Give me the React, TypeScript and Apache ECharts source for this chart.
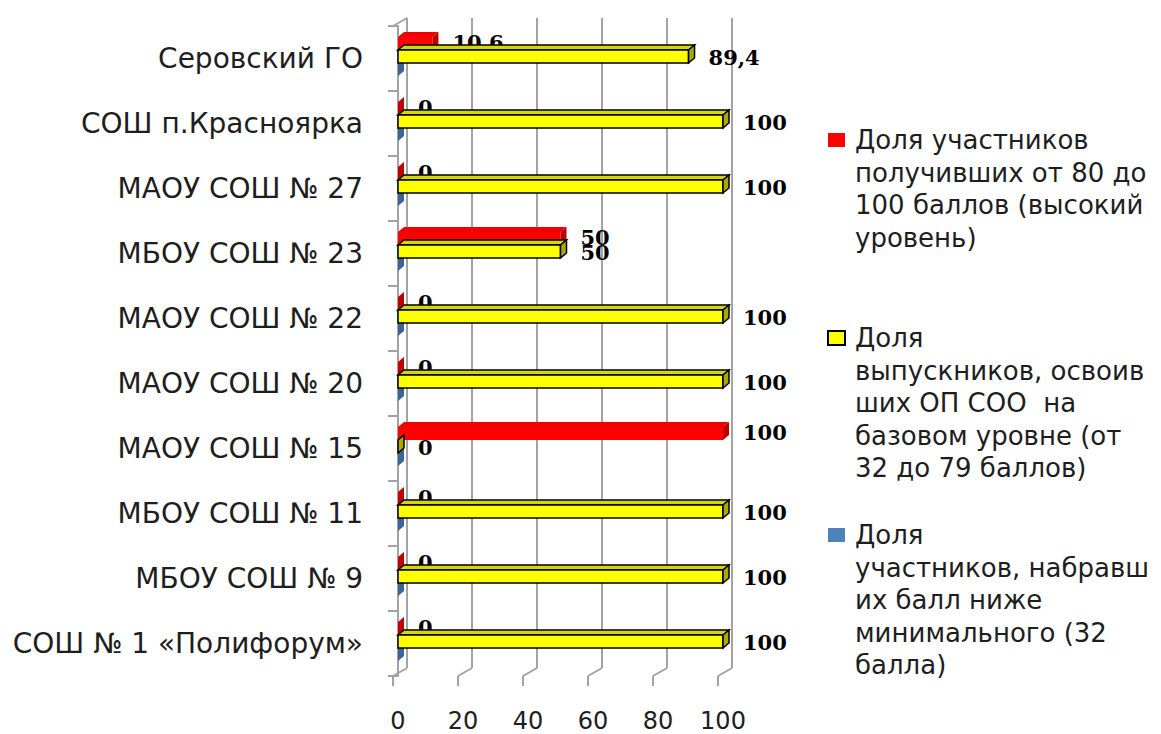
import React, { useEffect, useRef } from "react";
import * as echarts from "echarts";

// Categories listed bottom → top (ECharts category y-axis starts at bottom)
const categories = [
  "СОШ № 1 «Полифорум»",
  "МБОУ СОШ № 9",
  "МБОУ СОШ № 11",
  "МАОУ СОШ № 15",
  "МАОУ СОШ № 20",
  "МАОУ СОШ № 22",
  "МБОУ СОШ № 23",
  "МАОУ СОШ № 27",
  "СОШ п.Красноярка",
  "Серовский ГО",
];
const highLevel = [0, 0, 0, 100, 0, 0, 50, 0, 0, 10.6];
const baseLevel = [100, 100, 100, 0, 100, 100, 50, 100, 100, 89.4];
const belowMin = [0, 0, 0, 0, 0, 0, 0, 0, 0, 0];
const xTicks = [0, 20, 40, 60, 80, 100];

const legendHigh = "Доля участников\nполучивших от 80 до\n100 баллов (высокий\nуровень)";
const legendBase = "Доля\nвыпускников, освоив\nших ОП СОО  на\nбазовом уровне (от\n32 до 79 баллов)";
const legendLow = "Доля\nучастников, набравш\nих балл ниже\nминимального (32\nбалла)";

const fmt = (v: number) => String(v).replace(".", ",");

const DX = 6;
const DY = 5;
const SHIFT = 2;

function makeBarRender(slot: number, front: string, top: string, side: string, stroke: string | null, showLabel: boolean, labelDy: number) {
  return (params: any, api: any) => {
    const v = api.value(0);
    const idx = api.value(1);
    const s = api.coord([0, idx]);
    const e = api.coord([v, idx]);
    const band = api.size([0, 1])[1];
    const h = band * 0.2;
    const y0 = s[1] + (slot - 1.5) * h - SHIFT;
    const x0 = s[0];
    const x1 = e[0];
    const lw = stroke ? 1.5 : 0;
    const st = stroke || undefined;
    const children: any[] = [];
    children.push({
      type: "polygon",
      shape: { points: [[x0, y0], [x0 + DX, y0 - DY], [x1 + DX, y0 - DY], [x1, y0]] },
      style: { fill: top, stroke: st, lineWidth: lw },
    });
    if (x1 - x0 > 0.5) {
      children.push({
        type: "rect",
        shape: { x: x0, y: y0, width: x1 - x0, height: h },
        style: { fill: front, stroke: st, lineWidth: lw },
      });
    }
    children.push({
      type: "polygon",
      shape: { points: [[x1, y0], [x1 + DX, y0 - DY], [x1 + DX, y0 + h - DY], [x1, y0 + h]] },
      style: { fill: side, stroke: st, lineWidth: lw },
    });
    if (showLabel) {
      children.push({
        type: "text",
        x: x1 + 20,
        y: y0 + h / 2 + labelDy,
        z2: 10,
        style: {
          text: fmt(v),
          fontFamily: "DejaVu Serif",
          fontWeight: "bold",
          fontSize: 21,
          fill: "#000",
          verticalAlign: "middle",
          align: "left",
        },
      });
    }
    return { type: "group", children };
  };
}

function frameRender(params: any, api: any) {
  const v = api.value(0);
  const cs = params.coordSys;
  const fx = api.coord([v, 0])[0] - 5;
  const bx = fx + 14;
  const fb = cs.y + cs.height;
  const bb = fb - 8;
  const tb = cs.y - 8;
  const ls = { stroke: "#a3a3a3", lineWidth: 2 };
  const children: any[] = [
    { type: "line", shape: { x1: bx, y1: tb, x2: bx, y2: bb }, style: ls },
    { type: "line", shape: { x1: fx, y1: fb, x2: bx, y2: bb }, style: ls },
    { type: "line", shape: { x1: fx, y1: fb, x2: fx, y2: fb + 10 }, style: ls },
  ];
  if (v === 0) {
    children.push({ type: "line", shape: { x1: fx, y1: cs.y, x2: bx, y2: tb }, style: ls });
  }
  return { type: "group", children };
}

function legendItem(top: number, color: string, border: string | null, text: string) {
  return [
    {
      type: "rect",
      shape: { x: 828, y: top - 7, width: 17, height: 14 },
      style: { fill: color, stroke: border || undefined, lineWidth: border ? 2 : 0 },
    },
    {
      type: "text",
      x: 855,
      y: top - 16,
      style: {
        text,
        fontFamily: "DejaVu Sans",
        fontSize: 26,
        lineHeight: 32.5,
        fill: "#1e1e1e",
        verticalAlign: "top",
        align: "left",
      },
    },
  ];
}

export default function App() {
  const ref = useRef<HTMLDivElement>(null);
  useEffect(() => {
    document.body.style.margin = "0";
    const chart = echarts.init(ref.current!, undefined, { renderer: "svg" });
    const toData = (arr: number[]) => arr.map((v, i) => [v, i]);
    chart.setOption({
      animation: false,
      backgroundColor: "#fff",
      grid: { left: 398, right: 438, top: 26, bottom: 58 },
      xAxis: {
        type: "value",
        min: 0,
        max: 100,
        interval: 20,
        axisLine: { show: false },
        axisTick: { show: false },
        splitLine: { show: false },
        axisLabel: {
          margin: 33,
          fontFamily: "DejaVu Sans",
          fontSize: 24,
          color: "#1e1e1e",
        },
      },
      yAxis: {
        type: "category",
        data: categories,
        offset: 5,
        axisLine: { show: true, lineStyle: { color: "#a3a3a3", width: 2 } },
        axisTick: { show: true, length: 10, lineStyle: { color: "#a3a3a3", width: 2 } },
        axisLabel: {
          margin: 30,
          fontFamily: "DejaVu Sans",
          fontSize: 28,
          color: "#1e1e1e",
        },
      },
      series: [
        {
          type: "custom",
          name: "frame",
          silent: true,
          z: 0,
          data: xTicks.map((v) => [v, 0]),
          encode: { x: 0, y: 1 },
          renderItem: frameRender,
        },
        {
          type: "custom",
          name: "Доля участников, набравших балл ниже минимального (32 балла)",
          z: 1,
          data: toData(belowMin),
          encode: { x: 0, y: 1 },
          renderItem: makeBarRender(2, "#4f81bd", "#5b8ccc", "#3a6597", null, false, 0),
        },
        {
          type: "custom",
          name: "Доля участников получивших от 80 до 100 баллов (высокий уровень)",
          z: 2,
          data: toData(highLevel),
          encode: { x: 0, y: 1 },
          renderItem: makeBarRender(0, "#ff0000", "#f00000", "#c00000", null, true, -1),
        },
        {
          type: "custom",
          name: "Доля выпускников, освоивших ОП СОО на базовом уровне (от 32 до 79 баллов)",
          z: 3,
          data: toData(baseLevel),
          encode: { x: 0, y: 1 },
          renderItem: makeBarRender(1, "#ffff00", "#d6d600", "#a9a900", "#000", true, 1),
        },
      ],
      graphic: [
        ...legendItem(140, "#ff0000", null, legendHigh),
        ...legendItem(338, "#ffff00", "#000", legendBase),
        ...legendItem(535, "#4f81bd", null, legendLow),
      ],
    });
    return () => chart.dispose();
  }, []);
  return <div ref={ref} style={{ width: 1161, height: 734 }} />;
}
